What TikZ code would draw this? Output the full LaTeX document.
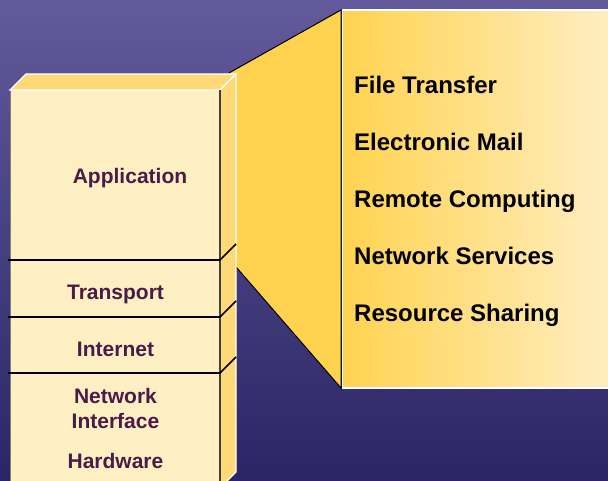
\documentclass[tikz,border=0pt]{standalone}
\usepackage{fontspec}
\setmainfont{Liberation Sans}
\begin{document}
\begin{tikzpicture}[x=1pt,y=1pt,
  layerlabel/.style={font=\bfseries\fontsize{21}{25}\selectfont, text=labelpurple, anchor=base, inner sep=0pt},
  svclabel/.style={font=\bfseries\fontsize{24}{28}\selectfont, text=black, anchor=base west, inner sep=0pt},
  divider/.style={draw=black, line width=1.6pt},
  ]
\definecolor{bgtop}{HTML}{625A9B}
\definecolor{bgbot}{HTML}{2B2565}
\definecolor{gold}{HTML}{FFD350}
\definecolor{paleyellow}{HTML}{FFEEC2}
\definecolor{cream}{HTML}{FFF0C4}
\definecolor{sideface}{HTML}{FFD878}
\definecolor{labelpurple}{HTML}{4B1A48}
\useasboundingbox (0,0) rectangle (608,481);
% background
\shade[top color=bgtop, bottom color=bgbot] (0,0) rectangle (608,481);
% funnel
\fill[gold] (229,408) -- (341,471) -- (341,93) -- (230,221) -- cycle;
\draw[black, line width=1pt] (229,408) -- (341,471) -- (341,93) -- (230,221);
% panel
\shade[left color=gold, right color=paleyellow] (342.5,93) rectangle (612,471);
\draw[white, line width=1.6pt] (612,93) -- (342.5,93) -- (342.5,471) -- (612,471);
% stack front
\fill[cream] (10,-10) rectangle (220,391);
\draw[gray, line width=1pt] (10,-10) -- (10,391) -- (220,391);
\draw[black!75, line width=1.2pt] (220,391) -- (220,-10);
% top face
\filldraw[fill=sideface, draw=white, line width=1.2pt] (10,391) -- (26,407) -- (236,407) -- (220,391) -- cycle;
% side face
\filldraw[fill=sideface, draw=white, line width=1.2pt] (220,391) -- (236,407) -- (236,9) -- (220,-7) -- cycle;
\draw[black!75, line width=1.2pt] (220,391) -- (220,-10);
% dividers
\draw[divider] (8,221) -- (220,221) -- (236,237);
\draw[divider] (8,164) -- (220,164) -- (236,180);
\draw[divider] (8,108) -- (220,108) -- (236,124);
% layer labels
\node[layerlabel] (app) at (130,297) {Application};
\node[layerlabel] (trans) at (115.5,181) {Transport};
\node[layerlabel] (inet) at (115.5,124) {Internet};
\node[layerlabel] (net) at (115.5,77) {Network};
\node[layerlabel] (iface) at (115.5,52) {Interface};
\node[layerlabel] (hw) at (115.5,12) {Hardware};
% services
\node[svclabel] (ft) at (354,387) {File Transfer};
\node[svclabel] (em) at (354,330) {Electronic Mail};
\node[svclabel] (rc) at (354,273) {Remote Computing};
\node[svclabel] (ns) at (354,216) {Network Services};
\node[svclabel] (rs) at (354,159) {Resource Sharing};
\end{tikzpicture}
\end{document}
